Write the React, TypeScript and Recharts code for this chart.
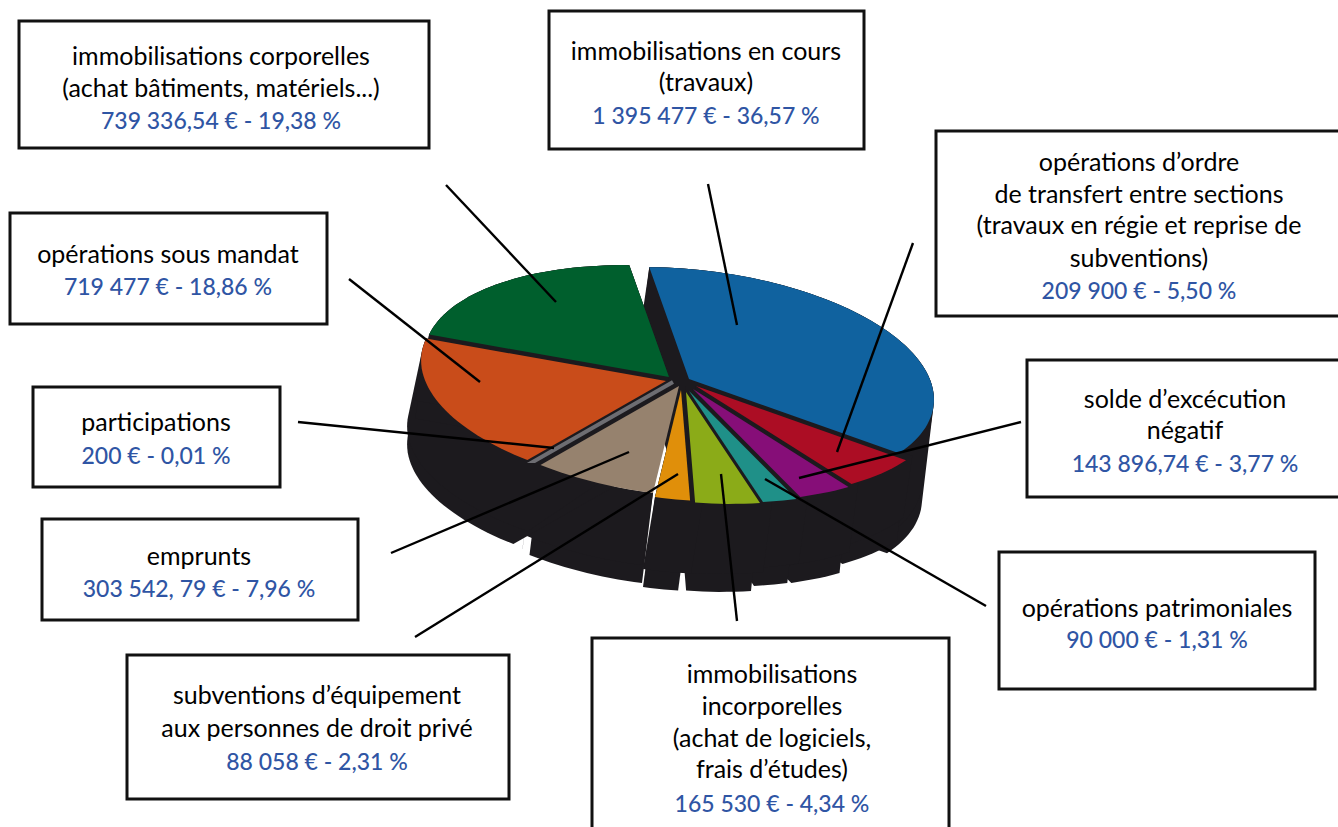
import React from "react";
import { PieChart, Pie } from "recharts";

const categories = [
  "immobilisations en cours",
  "opérations d'ordre",
  "solde d'excécution négatif",
  "opérations patrimoniales",
  "immobilisations incorporelles",
  "subventions d'équipement",
  "emprunts",
  "participations",
  "opérations sous mandat",
  "immobilisations corporelles",
];
const amounts = [1395477, 209900, 143896.74, 90000, 165530, 88058, 303542.79, 200, 719477, 739336.54];
const colors = ["#10629f", "#ac0d24", "#860e78", "#1f9088", "#8bab18", "#e08f0a", "#96826e", "#6d6d72", "#c94c1a", "#005f2d"];

const rows = categories.map((name, i) => ({ name, value: amounts[i] }));

// layout of each exploded slice, in category order
const shiftX = [11, 18, 15, 11, 8, 3, 1, -5, -12, -9];
const shiftY = [-6, 1, 4, 6, 7, 5, 1, -3, -4, -8];
const depths = [100, 80, 86, 84, 88, 90, 90, 88, 84, 84];
const drifts = [-12, -9, -9, -9, -9, -12, -11, -12, -14, -14];
const skirtStart = [0, 3, 3, 3, 3, 3, 0, 0, 4, 0];
const skirtEnd = [3, 3, 3, 3, 3, 0, 4, 0, 0, 0];
const CRACKED = [6, 7]; // slices whose wall stands apart from the neighbouring slice

const DARK = "#1c1a1e";
const BLUE = "#2f55a4";
const TILT = (6 * Math.PI) / 180;
const FLAT = 0.445;

type P = [number, number];

function wedge(props: any, extStart = 0, extEnd = 0): { pts: P[]; i: number } {
  const i = categories.indexOf(props.name);
  const { cx, cy, outerRadius: r } = props;
  const startAngle = props.startAngle + extStart;
  const endAngle = props.endAngle - extEnd;
  const at = (deg: number): P => {
    const t = ((90 - deg) * Math.PI) / 180;
    const px = r * Math.sin(t);
    const py = -r * FLAT * Math.cos(t);
    return [
      cx + shiftX[i] + px * Math.cos(TILT) - py * Math.sin(TILT),
      cy + shiftY[i] + px * Math.sin(TILT) + py * Math.cos(TILT),
    ];
  };
  const pts: P[] = [[cx + shiftX[i], cy + shiftY[i]]];
  const n = Math.max(2, Math.ceil(Math.abs(endAngle - startAngle) / 2));
  for (let k = 0; k <= n; k++) pts.push(at(startAngle + ((endAngle - startAngle) * k) / n));
  return { pts, i };
}

function hull(points: P[]): P[] {
  const s = [...points].sort((a, b) => a[0] - b[0] || a[1] - b[1]);
  const cross = (o: P, a: P, b: P) => (a[0] - o[0]) * (b[1] - o[1]) - (a[1] - o[1]) * (b[0] - o[0]);
  const lo: P[] = [];
  for (const p of s) {
    while (lo.length >= 2 && cross(lo[lo.length - 2], lo[lo.length - 1], p) <= 0) lo.pop();
    lo.push(p);
  }
  const up: P[] = [];
  for (const p of s.reverse()) {
    while (up.length >= 2 && cross(up[up.length - 2], up[up.length - 1], p) <= 0) up.pop();
    up.push(p);
  }
  return lo.slice(0, -1).concat(up.slice(0, -1));
}

const toPath = (pts: P[]) => "M" + pts.map((p) => `${p[0].toFixed(1)} ${p[1].toFixed(1)}`).join("L") + "Z";

const extrude = (pts: P[], dx: number, dy: number) =>
  toPath(hull(pts.concat(pts.map((p) => [p[0] + dx, p[1] + dy] as P))));

// top wedge plus its outer wall only, so the right edge of the wall stays free
const frontWall = (pts: P[], dx: number, dy: number) => {
  const [tip, ...arc] = pts;
  const lower = arc.map((p) => [p[0] + dx, p[1] + dy] as P).reverse();
  return toPath([tip, ...arc, ...lower, arc[0]]);
};

const SideShape = (props: any) => {
  const { pts, i } = wedge(props);
  const wide = wedge(props, skirtStart[i], skirtEnd[i]).pts;
  if (CRACKED.includes(i)) {
    const tip = pts[0];
    const inner = pts.map((p) => [tip[0] + (p[0] - tip[0]) * 0.5, tip[1] + (p[1] - tip[1]) * 0.5] as P);
    return (
      <g>
        <path d={frontWall(pts, drifts[i], depths[i])} fill={DARK} />
        <path d={frontWall(wide, drifts[i], depths[i] - 18)} fill={DARK} />
        {i === 6 ? <path d={extrude(inner, 7, 0)} fill={DARK} /> : null}
      </g>
    );
  }
  return (
    <g>
      <path d={extrude(pts, drifts[i], depths[i])} fill={DARK} />
      <path d={extrude(wide, drifts[i], depths[i] - 18)} fill={DARK} />
    </g>
  );
};

const TopShape = (props: any) => {
  const { pts, i } = wedge(props);
  const thin = Math.abs(props.endAngle - props.startAngle) < 1;
  return (
    <path
      d={toPath(pts)}
      fill={colors[i]}
      stroke={thin ? colors[i] : "none"}
      strokeWidth={thin ? 4 : 0}
    />
  );
};

type Box = { x: number; y: number; w: number; h: number; cx: number; lines: [string, number][]; amount: [string, number] };

const boxes: Box[] = [
  { x: 19, y: 21, w: 410, h: 127, cx: 221, lines: [["immobilisations corporelles", 65], ["(achat bâtiments, matériels...)", 97]], amount: ["739 336,54 € - 19,38 %", 129] },
  { x: 549, y: 11, w: 315, h: 138, cx: 706, lines: [["immobilisations en cours", 60], ["(travaux)", 91]], amount: ["1 395 477 € - 36,57 %", 124] },
  { x: 936, y: 131, w: 420, h: 185, cx: 1139, lines: [["opérations d’ordre", 171], ["de transfert entre sections", 203], ["(travaux en régie et reprise de", 234], ["subventions)", 267]], amount: ["209 900 € - 5,50 %", 299] },
  { x: 1027, y: 360, w: 330, h: 137, cx: 1185, lines: [["solde d’excécution", 408], ["négatif", 439]], amount: ["143 896,74 € - 3,77 %", 472] },
  { x: 999, y: 552, w: 316, h: 137, cx: 1157, lines: [["opérations patrimoniales", 617]], amount: ["90 000 € - 1,31 %", 648] },
  { x: 592, y: 638, w: 357, h: 210, cx: 772, lines: [["immobilisations", 683], ["incorporelles", 715], ["(achat de logiciels,", 747], ["frais d’études)", 778]], amount: ["165 530 € - 4,34 %", 812] },
  { x: 127, y: 655, w: 382, h: 144, cx: 317, lines: [["subventions d’équipement", 704], ["aux personnes de droit privé", 737]], amount: ["88 058 € - 2,31 %", 770] },
  { x: 42, y: 519, w: 316, h: 101, cx: 199, lines: [["emprunts", 565]], amount: ["303 542, 79 € - 7,96 %", 597] },
  { x: 33, y: 387, w: 247, h: 100, cx: 156, lines: [["participations", 431]], amount: ["200 € - 0,01 %", 464] },
  { x: 10, y: 213, w: 317, h: 111, cx: 168, lines: [["opérations sous mandat", 263]], amount: ["719 477 € - 18,86 %", 295] },
];

const leaders: [number, number, number, number][] = [
  [446, 185, 556, 302],
  [708, 184, 737, 325],
  [913, 243, 837, 452],
  [1021, 422, 799, 478],
  [986, 606, 765, 479],
  [737, 621, 721, 474],
  [415, 637, 678, 474],
  [391, 553, 629, 452],
  [298, 422, 554, 448],
  [349, 279, 480, 382],
];

const pieProps = {
  data: rows,
  dataKey: "value",
  nameKey: "name",
  cx: 678,
  cy: 385,
  innerRadius: 0,
  outerRadius: 246,
  startAngle: 102,
  endAngle: -258,
  paddingAngle: 0,
  stroke: "none",
  isAnimationActive: false,
  labelLine: false,
  legendType: "none" as const,
};

export default function App() {
  return (
    <div style={{ position: "absolute", left: 0, top: 0, width: 1338, height: 827, overflow: "hidden", background: "#fff" }}>
      <PieChart width={1338} height={827} margin={{ top: 0, right: 0, bottom: 0, left: 0 }}>
        <Pie {...pieProps} shape={SideShape} activeShape={SideShape} inactiveShape={SideShape} />
        <Pie {...pieProps} shape={TopShape} activeShape={TopShape} inactiveShape={TopShape} />
      </PieChart>
      <svg width={1338} height={827} style={{ position: "absolute", left: 0, top: 0, pointerEvents: "none" }}>
        {leaders.map((l, i) => (
          <line key={i} x1={l[0]} y1={l[1]} x2={l[2]} y2={l[3]} stroke="#000" strokeWidth={2.4} />
        ))}
        {boxes.map((b, i) => (
          <g key={i} fontFamily="Lato" textAnchor="middle">
            <rect x={b.x} y={b.y} width={b.w} height={b.h} fill="#fff" stroke="#111" strokeWidth={3} />
            {b.lines.map(([t, y], k) => (
              <text key={k} x={b.cx} y={y} fill="#000" fontSize={25}>{t}</text>
            ))}
            <text x={b.cx} y={b.amount[1]} fill={BLUE} fontSize={23} fontWeight={500}>{b.amount[0]}</text>
          </g>
        ))}
      </svg>
    </div>
  );
}
